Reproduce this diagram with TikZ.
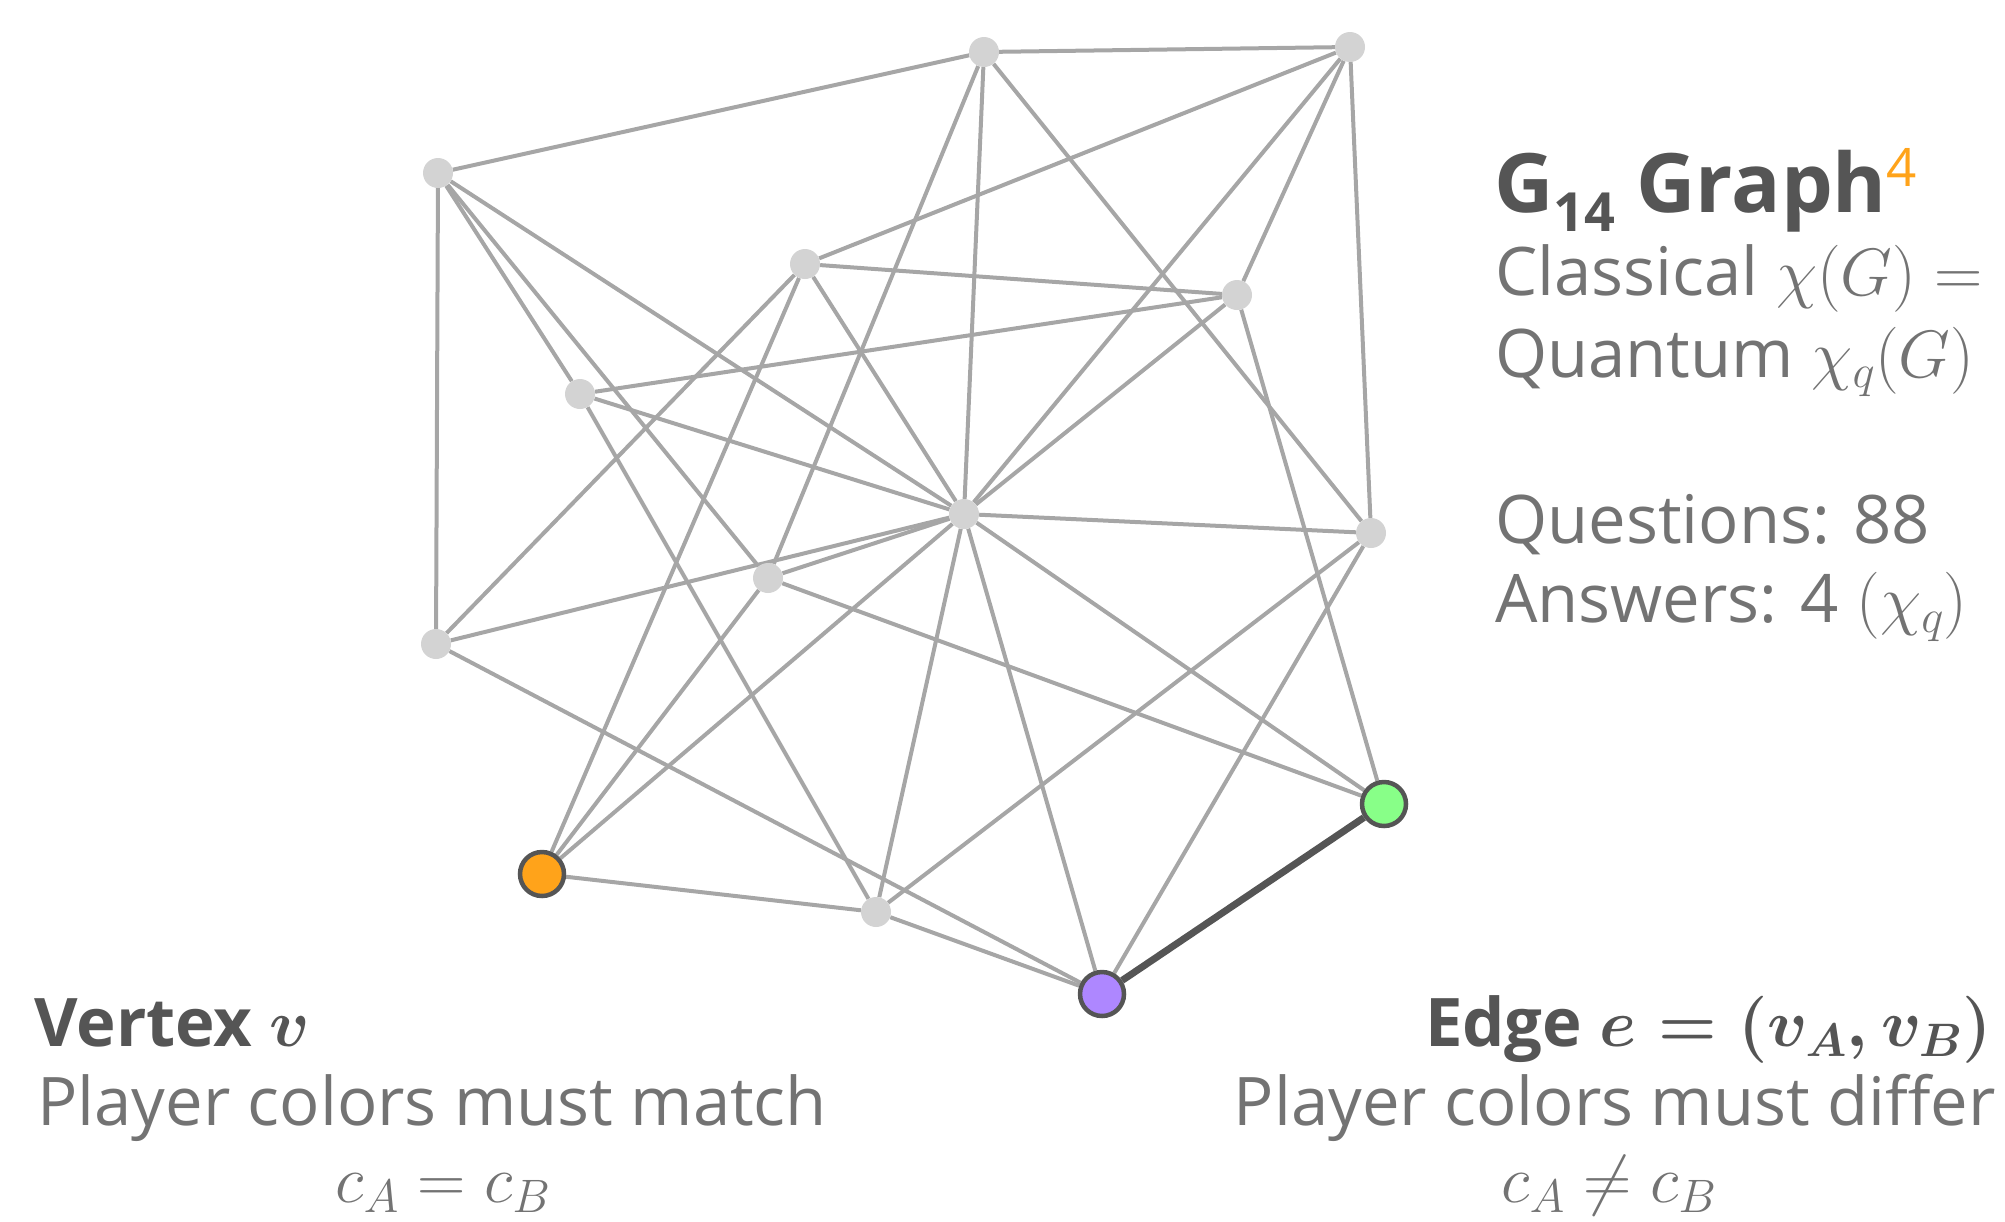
\RequirePackage{fix-cm}
\documentclass[tikz,border=0pt]{standalone}
\usepackage{amsmath}
\usepackage{fontspec}
\setmainfont{Open Sans}
\usetikzlibrary{backgrounds}
\definecolor{edgegray}{HTML}{A6A6A6}
\definecolor{nodegray}{HTML}{D3D3D3}
\definecolor{darkline}{HTML}{555555}
\definecolor{textgray}{HTML}{737373}
\definecolor{titlegray}{HTML}{555555}
\definecolor{orangefill}{HTML}{FFA31A}
\definecolor{greenfill}{HTML}{88FF88}
\definecolor{purplefill}{HTML}{AE87FF}
\tikzset{
  gv/.style={circle, fill=nodegray, draw=none, minimum size=30pt, inner sep=0pt},
  cv/.style={circle, draw=darkline, line width=4.5pt, minimum size=44pt, inner sep=0pt},
  edge/.style={draw=edgegray, line width=4pt},
  keyedge/.style={draw=darkline, line width=7pt},
  txt/.style={inner sep=0pt, text=textgray, font=\fontsize{67}{80}\selectfont},
  captxt/.style={inner sep=0pt, text=textgray, font=\fontsize{67}{80}\selectfont},
  headtxt/.style={inner sep=0pt, text=titlegray, font=\fontsize{67}{80}\selectfont\bfseries}
}
\begin{document}
\begin{tikzpicture}[x=1pt,y=-1pt]
\useasboundingbox (0,0) rectangle (2005,1221);
% vertices
\node[gv] (A) at (438,173) {};
\node[gv] (B) at (984,52) {};
\node[gv] (C) at (1350,47) {};
\node[gv] (D) at (805,264) {};
\node[gv] (E) at (1237,295) {};
\node[gv] (F) at (580,394) {};
\node[gv] (G) at (964,514) {};
\node[gv] (H) at (1371,533) {};
\node[gv] (I) at (768,578) {};
\node[gv] (J) at (436,644) {};
\node[gv] (L) at (876,912) {};
\node[cv, fill=orangefill] (K) at (542,874) {};
\node[cv, fill=purplefill] (M) at (1102,994) {};
\node[cv, fill=greenfill] (N) at (1384,804) {};
% edges
\begin{scope}[on background layer]
\foreach \u/\v in {A/B, A/J, A/F, A/I, A/G,
  B/C, B/G, B/I, B/H,
  C/D, C/G, C/E, C/H,
  D/E, D/J, D/K, D/G,
  E/F, E/G, E/N,
  F/G, F/L,
  G/H, G/I, G/J, G/K, G/L, G/M, G/N,
  H/L, H/M,
  I/K, I/N,
  J/M, K/L, L/M}
  \draw[edge] (\u) -- (\v);
\end{scope}
\draw[keyedge] (M) -- (N);
% right text block
\node[anchor=base west, inner sep=0pt, text=titlegray, font=\fontsize{82}{90}\selectfont\bfseries] (title) at (1494,212)
  {G\raisebox{-19pt}{\fontsize{54}{54}\selectfont 14} Graph\raisebox{26pt}{\fontsize{53}{53}\selectfont\mdseries\textcolor{orangefill}{4}}};
\node[txt, anchor=base west] (classical) at (1495,295) {Classical $\chi(G) =$};
\node[txt, anchor=base west] (quantum) at (1495,377) {Quantum $\chi_q(G)$};
\node[txt, anchor=base west] (questions) at (1495,543) {Questions: 88};
\node[txt, anchor=base west] (answers) at (1495,622) {Answers: 4 $(\chi_q)$};
% bottom left
\node[headtxt, anchor=base west] (vertex) at (34,1046) {Vertex {\boldmath$v$}};
\node[captxt, anchor=base west] (match) at (37,1125) {Player colors must match};
\node[captxt, anchor=base] (eq) at (443,1202) {$c_A = c_B$};
% bottom right
\node[headtxt, anchor=base east] (edgelbl) at (1992,1046) {Edge {\boldmath$e = (v_A, v_B)$}};
\node[captxt, anchor=base east] (differ) at (1996,1125) {Player colors must differ};
\node[captxt, anchor=base] (neq) at (1609,1202) {$c_A \neq c_B$};
\end{tikzpicture}
\end{document}
